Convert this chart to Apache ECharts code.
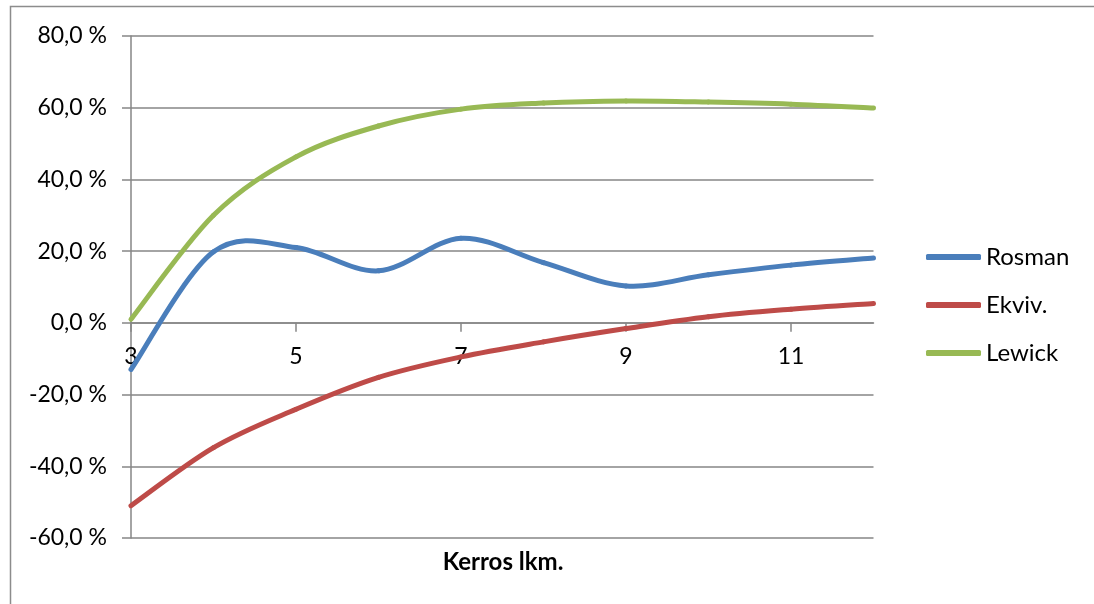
<!DOCTYPE html>
<html>
<head>
<meta charset="utf-8">
<script src="https://cdn.jsdelivr.net/npm/echarts@6/dist/echarts.min.js"></script>
<style>
  html, body { margin: 0; padding: 0; background: #ffffff; }
  #chart { width: 1094px; height: 604px; }
</style>
</head>
<body>
<div id="chart"></div>
<script>
// Number of floors (x axis categories)
const floors = ['3', '4', '5', '6', '7', '8', '9', '10', '11', '12'];

// Relative differences per method, in percent
const rosman = [-13, 19.8, 21, 14.5, 23.6, 16.8, 10.3, 13.4, 16.1, 18.1];
const ekviv  = [-51, -34.8, -24.1, -15.2, -9.5, -5.3, -1.6, 1.7, 3.8, 5.4];
const lewick = [1, 30, 46.3, 54.9, 59.6, 61.3, 61.9, 61.6, 61, 59.9];

const seriesNames = ['Rosman', 'Ekviv.', 'Lewick'];
const seriesColors = ['#4A7EBB', '#BE4B48', '#98B954'];

const FONT = 'Lato, "Open Sans", sans-serif';
const GRID_GRAY = '#868686';

const Y_MIN = -60, Y_MAX = 80;
const GRID = { left: 131, right: 220.5, top: 36, bottom: 66 };
// Plot height in px and offset that lifts the category axis onto the 0 % line
const PLOT_H = 604 - GRID.top - GRID.bottom;
const ZERO_OFFSET = -PLOT_H * (0 - Y_MIN) / (Y_MAX - Y_MIN);

const chart = echarts.init(document.getElementById('chart'), null, { renderer: 'canvas' });

// Smoothed line drawn as Catmull-Rom Bezier segments between consecutive points
function smoothSeries(name, values, color) {
  return {
    name: name,
    type: 'custom',
    coordinateSystem: 'cartesian2d',
    data: values.map((v, i) => [i, v]),
    encode: { x: 0, y: 1 },
    itemStyle: { color: color },
    clip: false,
    z: 3,
    renderItem: function (params, api) {
      const i = params.dataIndex;
      const n = values.length;
      if (i >= n - 1) return null;
      const pt = k => api.coord([Math.max(0, Math.min(n - 1, k)), values[Math.max(0, Math.min(n - 1, k))]]);
      const p0 = pt(i - 1), p1 = pt(i), p2 = pt(i + 1), p3 = pt(i + 2);
      return {
        type: 'bezierCurve',
        shape: {
          x1: p1[0], y1: p1[1],
          cpx1: p1[0] + (p2[0] - p0[0]) / 6, cpy1: p1[1] + (p2[1] - p0[1]) / 6,
          cpx2: p2[0] - (p3[0] - p1[0]) / 6, cpy2: p2[1] - (p3[1] - p1[1]) / 6,
          x2: p2[0], y2: p2[1]
        },
        style: { stroke: color, lineWidth: 5, fill: null, lineCap: 'round', lineJoin: 'round' }
      };
    }
  };
}

chart.setOption({
  animation: false,
  backgroundColor: '#ffffff',
  grid: Object.assign({ containLabel: false }, GRID),
  xAxis: {
    type: 'category',
    data: floors,
    boundaryGap: false,
    position: 'bottom',
    offset: ZERO_OFFSET,
    axisLine: { onZero: false, lineStyle: { color: GRID_GRAY, width: 1.5 } },
    axisTick: { show: true, interval: 1, length: 9, inside: false, lineStyle: { color: GRID_GRAY, width: 1.5 } },
    axisLabel: { interval: 1, margin: 22, color: '#000', fontFamily: FONT, fontSize: 23 },
    splitLine: { show: false }
  },
  yAxis: {
    type: 'value',
    min: Y_MIN,
    max: Y_MAX,
    interval: 20,
    axisLine: { show: true, lineStyle: { color: GRID_GRAY, width: 1.5 } },
    axisTick: { show: true, length: 9, lineStyle: { color: GRID_GRAY, width: 1.5 } },
    axisLabel: {
      margin: 24,
      color: '#000',
      fontFamily: FONT,
      fontSize: 23,
      formatter: v => v.toFixed(1).replace('.', ',') + ' %'
    },
    splitLine: { show: true, lineStyle: { color: GRID_GRAY, width: 1.5 } }
  },
  legend: {
    orient: 'vertical',
    left: 926,
    top: 245,
    padding: 0,
    itemWidth: 55,
    itemHeight: 6,
    itemGap: 24,
    icon: 'roundRect',
    textStyle: { color: '#000', fontFamily: FONT, fontSize: 24 },
    data: seriesNames
  },
  graphic: [
    {
      type: 'rect',
      shape: { x: 10.5, y: 6.5, width: 1200, height: 700 },
      style: { fill: 'none', stroke: '#8c8c8c', lineWidth: 1.5 },
      silent: true,
      z: -1
    },
    {
      type: 'text',
      x: 503,
      y: 562,
      style: {
        text: 'Kerros lkm.',
        fill: '#000',
        font: 'bold 24px ' + FONT,
        textAlign: 'center',
        textVerticalAlign: 'middle'
      }
    }
  ],
  series: [
    smoothSeries(seriesNames[0], rosman, seriesColors[0]),
    smoothSeries(seriesNames[1], ekviv, seriesColors[1]),
    smoothSeries(seriesNames[2], lewick, seriesColors[2])
  ]
});
</script>
</body>
</html>
